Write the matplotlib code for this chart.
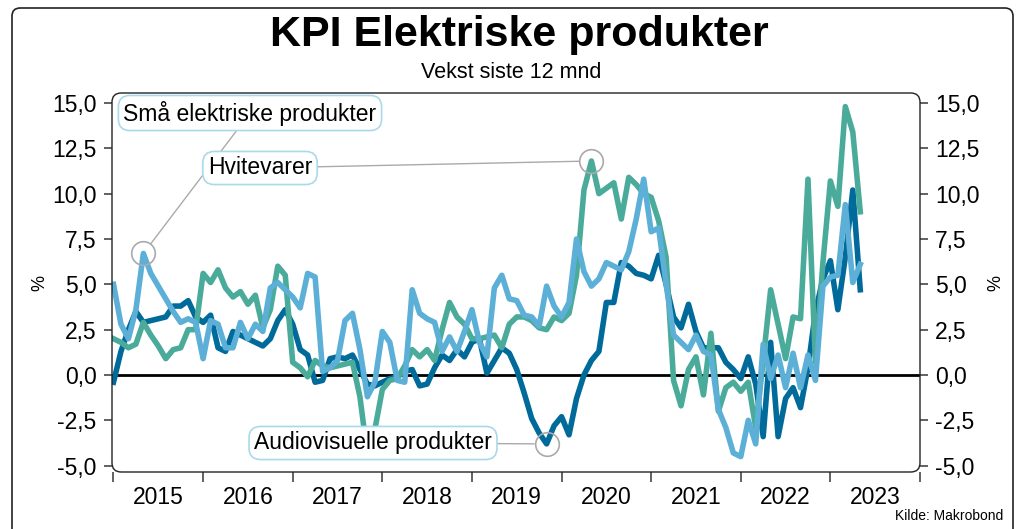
import numpy as np
import matplotlib
matplotlib.use("Agg")
import matplotlib.pyplot as plt
from matplotlib.patches import FancyBboxPatch
from matplotlib.ticker import FuncFormatter, FixedLocator

# monthly growth, % y/y, Jan 2015 - May 2023
audio = [-0.4, 1.3, 2.5, 3.5, 2.9, 3.0, 3.1, 3.2, 3.8, 3.8, 4.1, 3.2,
         2.9, 3.3, 1.5, 1.3, 2.4, 2.2, 2.0, 1.8, 1.6, 2.0, 3.0, 3.6,
         2.8, 1.4, 1.1, -0.4, -0.3, 0.9, 1.0, 0.9, 1.1, 0.3, -0.5, -0.6,
         -0.4, -0.2, -0.1, 0.2, 0.3, -0.6, -0.5, 0.4, 1.1, 0.8, 1.4, 1.0,
         1.8, 2.0, 0.1, 0.8, 1.5, 1.2, 0.3, -1.0, -2.4, -3.2, -3.8, -2.8,
         -2.3, -3.3, -1.3, 0.0, 0.8, 1.3, 4.0, 4.0, 6.2, 6.0, 5.6, 5.5,
         5.3, 6.6, 5.0, 3.2, 2.6, 3.9, 2.4, 1.5, 1.5, 1.5, 0.7, 0.3,
         -0.2, 1.0, -0.5, -3.4, 1.8, -3.4, -1.3, -0.7, -1.8, 0.4, 3.5, 5.3,
         6.3, 3.6, 6.5, 10.2, 4.7]
white_goods = [2.0, 1.8, 1.5, 1.7, 2.9, 2.2, 1.6, 0.9, 1.4, 1.5, 2.5, 2.5,
               5.6, 5.1, 5.8, 4.8, 4.3, 4.6, 3.9, 4.4, 2.6, 3.6, 6.0, 5.5,
               0.7, 0.4, -0.1, 0.8, 0.5, 0.4, 0.5, 0.6, 0.7, -1.2, -4.4, -3.0,
               -0.8, -0.3, -0.2, 0.5, 1.4, 1.0, 1.4, 0.8, 2.5, 4.0, 3.2, 2.8,
               2.0, 2.0, 2.1, 2.2, 1.5, 2.8, 3.2, 3.2, 3.0, 2.6, 2.5, 3.2,
               3.0, 3.4, 5.5, 10.2, 11.8, 10.0, 10.3, 10.6, 8.6, 10.9, 10.5, 10.0,
               9.8, 8.5, 6.5, -0.3, -1.7, 0.3, 1.0, -1.1, 2.3, -2.0, -0.7, -0.4,
               -0.9, -0.4, -2.9, 0.8, 4.7, 2.8, 0.9, 3.2, 3.1, 10.8, 0.7, 6.2,
               10.7, 9.3, 14.8, 13.4, 9.0]
small_el = [5.0, 2.8, 2.0, 3.6, 6.7, 5.6, 4.9, 4.2, 3.5, 2.9, 3.1, 2.9,
            0.9, 3.0, 2.8, 1.5, 1.5, 2.9, 2.0, 2.8, 2.4, 4.8, 5.1, 4.7,
            4.3, 3.7, 5.6, 5.4, 0.2, 0.4, 0.8, 3.0, 3.4, 1.4, -1.2, -0.4,
            2.4, 1.8, -0.3, -0.4, 4.7, 3.4, 3.1, 2.9, 1.3, 2.1, 1.3, 2.4,
            3.6, 1.8, 1.0, 4.8, 5.5, 4.2, 4.1, 3.3, 3.2, 2.7, 4.9, 3.8,
            3.2, 4.0, 7.5, 5.7, 4.9, 5.3, 6.2, 6.0, 5.8, 6.8, 8.6, 10.8,
            7.9, 8.1, 5.0, 2.2, 1.8, 1.4, 2.2, 1.3, 1.1, -1.9, -2.9, -4.3,
            -4.5, -2.5, -3.8, 1.7, -0.2, 1.1, -0.7, 1.2, -0.7, 1.1, -0.3, 4.9,
            5.4, 5.5, 9.4, 5.1, 6.1]
years = ["2015", "2016", "2017", "2018", "2019", "2020", "2021", "2022", "2023"]
y_ticks = [-5.0, -2.5, 0.0, 2.5, 5.0, 7.5, 10.0, 12.5, 15.0]

# which month each label points at
small_peak, white_peak, audio_low = 4, 64, 58

c_audio = "#006a9a"
c_white = "#4aab9b"
c_small = "#5cafd6"
c_box = "#a9d9ea"

plt.rcParams["font.family"] = ["Liberation Sans", "DejaVu Sans"]

W, H = 1023, 529
fig = plt.figure(figsize=(W / 100, H / 100), dpi=100)

# outer frame
fig.patches.append(FancyBboxPatch((12 / W, -0.1), 1001 / W, 1 - 8 / H + 0.1,
                                  boxstyle="round,pad=0,rounding_size=0.008",
                                  mutation_aspect=W / H, transform=fig.transFigure,
                                  fill=False, ec="#222222", lw=1.2, zorder=0))

ax_l, ax_r, ax_t, ax_b = 112, 920, 93, 472
ax = fig.add_axes([ax_l / W, 1 - ax_b / H, (ax_r - ax_l) / W, (ax_b - ax_t) / H])
for s in ax.spines.values():
    s.set_visible(False)
fig.patches.append(FancyBboxPatch((ax_l / W, 1 - ax_b / H), (ax_r - ax_l) / W, (ax_b - ax_t) / H,
                                  boxstyle="round,pad=0,rounding_size=0.009",
                                  mutation_aspect=W / H, transform=fig.transFigure,
                                  fill=False, ec="#222222", lw=1.0, zorder=5))

x = np.arange(len(audio))
ax.axhline(0, color="black", lw=2, zorder=1)
ax.plot(x, audio, color=c_audio, lw=4, zorder=2)
ax.plot(x, white_goods, color=c_white, lw=4, zorder=3)
ax.plot(x, small_el, color=c_small, lw=4, zorder=4)

ax.set_xlim(-0.2, 108)
ax.set_ylim(-5.35, 15.55)

ax.yaxis.set_major_locator(FixedLocator(y_ticks))
ax.yaxis.set_major_formatter(FuncFormatter(lambda v, p: f"{v:.1f}".replace(".", ",")))
ax.tick_params(axis="y", which="both", left=True, right=True, labelleft=True, labelright=True,
               direction="out", length=6, width=1.3, color="#555555", labelsize=16.5, pad=5)

ax.xaxis.set_major_locator(FixedLocator(np.arange(0, 12 * len(years) + 1, 12)))
ax.xaxis.set_major_formatter(FuncFormatter(lambda v, p: ""))
ax.set_xticks(np.arange(6, 12 * len(years), 12), labels=years, minor=True)
ax.tick_params(axis="x", which="major", direction="out", length=7, width=1.3, color="#555555")
ax.tick_params(axis="x", which="minor", length=0, labelsize=16.5, pad=10)

fig.text(40 / W, 1 - 283 / H, "%", rotation=90, ha="center", va="center", fontsize=13)
fig.text(996 / W, 1 - 283 / H, "%", rotation=90, ha="center", va="center", fontsize=13)

fig.text(0.508, 1 - 35 / H, "KPI Elektriske produkter", ha="center", va="center",
         fontsize=31, fontweight="bold")
fig.text(0.5, 1 - 72 / H, "Vekst siste 12 mnd", ha="center", va="center", fontsize=15.5)
fig.text(1003 / W, 1 - 516 / H, "Kilde: Makrobond", ha="right", va="center", fontsize=10)

# annotation circles
ax.plot([small_peak], [small_el[small_peak]], "o", ms=17, mfc="none", mec="#aaaaaa", mew=1.2, zorder=6)
ax.plot([white_peak], [white_goods[white_peak]], "o", ms=17, mfc="none", mec="#aaaaaa", mew=1.2, zorder=6)
ax.plot([audio_low], [audio[audio_low]], "o", ms=17, mfc="none", mec="#aaaaaa", mew=1.2, zorder=6)

box = dict(boxstyle="round,pad=0.22,rounding_size=0.5", fc="white", ec=c_box, lw=1.2)
arrow = dict(arrowstyle="-", color="#aaaaaa", lw=1.0, shrinkA=0, shrinkB=9)
ax.annotate("Små elektriske produkter", xy=(small_peak, small_el[small_peak]),
            xytext=(250, H - 113), textcoords="figure pixels", ha="center", va="center",
            fontsize=16.5, bbox=box, arrowprops=arrow, zorder=7)
ax.annotate("Hvitevarer", xy=(white_peak, white_goods[white_peak]),
            xytext=(260, H - 168), textcoords="figure pixels", ha="center", va="center",
            fontsize=16.5, bbox=box, arrowprops=arrow, zorder=8)
ax.annotate("Audiovisuelle produkter", xy=(audio_low, audio[audio_low]),
            xytext=(373, H - 443), textcoords="figure pixels", ha="center", va="center",
            fontsize=16.5, bbox=box, arrowprops=arrow, zorder=7)

fig.savefig("out.png", dpi=100)
